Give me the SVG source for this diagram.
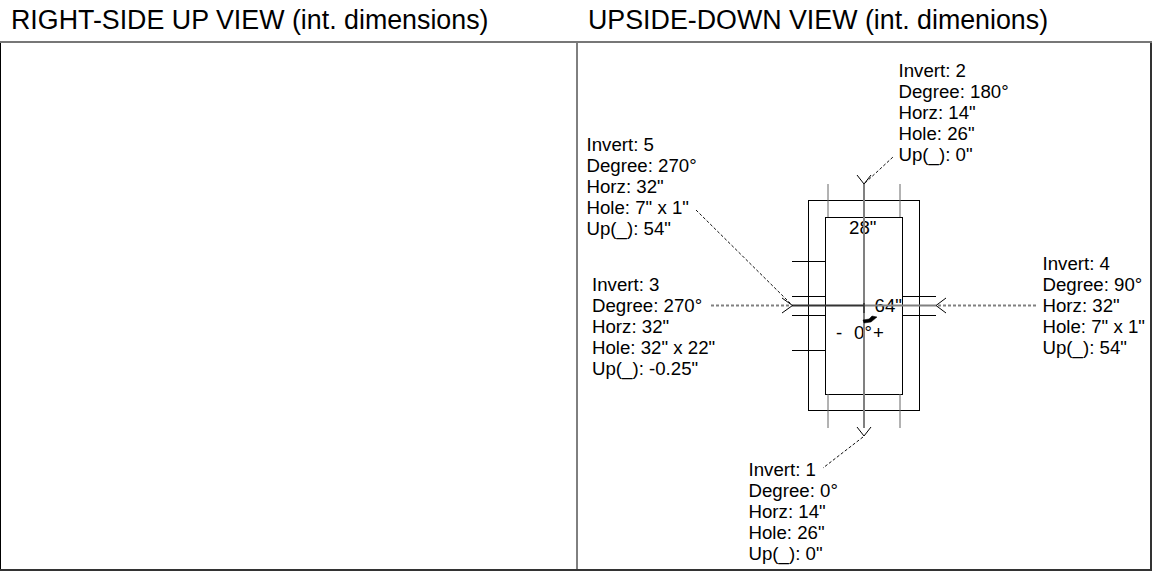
<svg xmlns="http://www.w3.org/2000/svg" width="1152" height="571" viewBox="0 0 1152 571">
<style>
text{font-family:"Liberation Sans",Arial,sans-serif;fill:#000}
.h{font-size:26.8px}
.t{font-size:18.67px}
.l{stroke:#000;stroke-width:1;fill:none}
.g{stroke:#808080;stroke-width:2;fill:none}
.g1{stroke:#666;stroke-width:1;fill:none}
.d{stroke:#111;stroke-width:1;stroke-dasharray:3 2;fill:none}
.dg{stroke:#808080;stroke-width:2;stroke-dasharray:3 2;fill:none}
</style>
<rect width="1152" height="571" fill="#fff"/>
<g id="frame">
<path d="M0.500 42V570M577 42V570" class="l"/>
<path d="M1151 42V570" stroke="#333" stroke-width="2" fill="none"/>
<path d="M0 42H1152" stroke="#777" stroke-width="2" fill="none"/>
<path d="M0 570H1152" stroke="#333" stroke-width="2" fill="none"/>
<text class="h" x="11" y="28.500">RIGHT-SIDE UP VIEW (int. dimensions)</text>
<text class="h" x="588" y="28.500">UPSIDE-DOWN VIEW (int. dimenions)</text>
</g>
<g id="box">
<rect x="808.500" y="200.500" width="111" height="210" class="l"/>
<rect x="825.500" y="217.500" width="77" height="177" class="l"/>
<path d="M828 184V217M900 184V217M828 394V428M900 394V428" class="g1"/>
<path d="M792 261.500H825M792 296.500H825M792 315.500H825M792 350.500H825M903 296.500H936M903 315.500H936" class="l"/>
<text class="t" x="849" y="234">28"</text>
<text class="t" x="874.500" y="311.500">64"</text>
<text class="t" x="836" y="339">-</text>
<text class="t" x="854" y="339">0°</text>
<text class="t" x="873" y="339">+</text>
</g>
<g id="connectors">
<path d="M864 184V428" class="g"/>
<path d="M792 305.500H864" stroke="#333" stroke-width="2" fill="none"/>
<path d="M864 305.500H936" class="g"/>
<path d="M864 303V313" stroke="#333" stroke-width="1.500" fill="none"/>
<path d="M857 175L864 184L871 175" class="l"/>
<path d="M857 427L864 436L871 427" class="l"/>
<path d="M782 298L792.500 305.500L782 313" class="l"/>
<path d="M946 298L936 305.500L946 313" class="l"/>
<path d="M865 183L893 157" class="d"/>
<path d="M863 437L823 468" class="d"/>
<path d="M696 210L791 304" class="d"/>
<path d="M711 305.500H790" class="dg"/>
<path d="M938 305.500H1037" class="dg"/>
<path d="M863 320L864 323L871 322L877 317L872 316L869 319Z" fill="#000" stroke="#000" stroke-width="0.500"/>
</g>
<g id="invert-2">
<text class="t" x="898.500" y="77">Invert: 2</text>
<text class="t" x="898.500" y="98">Degree: 180°</text>
<text class="t" x="898.500" y="119">Horz: 14"</text>
<text class="t" x="898.500" y="140">Hole: 26"</text>
<text class="t" x="898.500" y="161">Up(_): 0"</text>
</g>
<g id="invert-5">
<text class="t" x="586.500" y="151">Invert: 5</text>
<text class="t" x="586.500" y="172">Degree: 270°</text>
<text class="t" x="586.500" y="193">Horz: 32"</text>
<text class="t" x="586.500" y="214">Hole: 7" x 1"</text>
<text class="t" x="586.500" y="235">Up(_): 54"</text>
</g>
<g id="invert-3">
<text class="t" x="592" y="291">Invert: 3</text>
<text class="t" x="592" y="312">Degree: 270°</text>
<text class="t" x="592" y="333">Horz: 32"</text>
<text class="t" x="592" y="354">Hole: 32" x 22"</text>
<text class="t" x="592" y="375">Up(_): -0.25"</text>
</g>
<g id="invert-4">
<text class="t" x="1042.500" y="270">Invert: 4</text>
<text class="t" x="1042.500" y="291">Degree: 90°</text>
<text class="t" x="1042.500" y="312">Horz: 32"</text>
<text class="t" x="1042.500" y="333">Hole: 7" x 1"</text>
<text class="t" x="1042.500" y="354">Up(_): 54"</text>
</g>
<g id="invert-1">
<text class="t" x="748.500" y="476">Invert: 1</text>
<text class="t" x="748.500" y="497">Degree: 0°</text>
<text class="t" x="748.500" y="518">Horz: 14"</text>
<text class="t" x="748.500" y="539">Hole: 26"</text>
<text class="t" x="748.500" y="560">Up(_): 0"</text>
</g>
</svg>
